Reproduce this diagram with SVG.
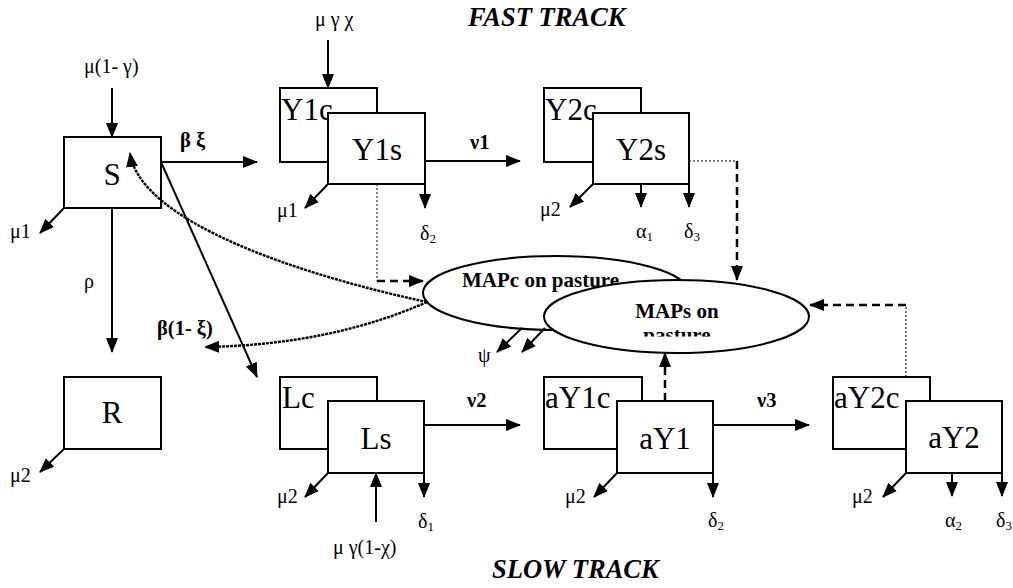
<svg xmlns="http://www.w3.org/2000/svg" width="1013" height="588" viewBox="0 0 1013 588">
<style>
.box{fill:#fff;stroke:#000;stroke-width:2}
.ell{fill:#fff;stroke:#000;stroke-width:2}
text{font-family:"Liberation Serif","Times New Roman",serif;fill:#000}
.big{font-size:31px}
.lbl{font-size:20px}
.bl{font-size:20.5px;font-weight:bold}
.map{font-size:21px;font-weight:bold}
.track{font-size:26.5px;font-weight:bold;font-style:italic}
.ln{stroke:#000;stroke-width:2;fill:none}
.dot{stroke:#000;stroke-width:1;stroke-dasharray:2 2;fill:none}
.dash{stroke:#000;stroke-width:2.5;stroke-dasharray:8 5;fill:none}
.crv{stroke:#000;stroke-width:2.4;stroke-dasharray:3 1;fill:none}
.sub{font-size:13px}
</style>
<defs>
<marker id="ah" markerUnits="userSpaceOnUse" markerWidth="16" markerHeight="12" refX="14" refY="6" orient="auto">
<path d="M0,0 L15,6 L0,12 z" fill="#000"/>
</marker>
<clipPath id="clipMaps"><rect x="560" y="290" width="240" height="46.5"/></clipPath>
</defs>

<text class="track" x="468" y="26">FAST TRACK</text>
<text class="track" x="492" y="578">SLOW TRACK</text>

<g id="node-S">
<rect class="box" x="64" y="137" width="97" height="71"/>
<text class="big" x="112" y="185" text-anchor="middle">S</text>
</g>
<g id="node-R">
<rect class="box" x="64" y="377" width="97" height="72"/>
<text class="big" x="112" y="423" text-anchor="middle">R</text>
</g>
<g id="node-Y1c">
<rect class="box" x="280" y="88" width="97" height="74"/>
<text class="big" x="281" y="120">Y1c</text>
</g>
<g id="node-Y1s">
<rect class="box" x="328" y="113" width="97" height="71"/>
<text class="big" x="377" y="160" text-anchor="middle">Y1s</text>
</g>
<g id="node-Y2c">
<rect class="box" x="544" y="88" width="97" height="74"/>
<text class="big" x="545" y="120">Y2c</text>
</g>
<g id="node-Y2s">
<rect class="box" x="593" y="113" width="96" height="71"/>
<text class="big" x="641" y="160" text-anchor="middle">Y2s</text>
</g>
<g id="node-Lc">
<rect class="box" x="280" y="377" width="97" height="72"/>
<text class="big" x="282" y="408">Lc</text>
</g>
<g id="node-Ls">
<rect class="box" x="328" y="401" width="96" height="72"/>
<text class="big" x="376" y="449" text-anchor="middle">Ls</text>
</g>
<g id="node-aY1c">
<rect class="box" x="544" y="377" width="98" height="72"/>
<text class="big" x="545" y="408">aY1c</text>
</g>
<g id="node-aY1">
<rect class="box" x="617" y="401" width="96" height="72"/>
<text class="big" x="665" y="449" text-anchor="middle">aY1</text>
</g>
<g id="node-aY2c">
<rect class="box" x="833" y="377" width="97" height="72"/>
<text class="big" x="834" y="408">aY2c</text>
</g>
<g id="node-aY2">
<rect class="box" x="906" y="401" width="96" height="72"/>
<text class="big" x="954" y="448" text-anchor="middle">aY2</text>
</g>
<g id="node-MAPc">
<ellipse class="ell" cx="556" cy="293" rx="133" ry="37"/>
<text class="map" x="462" y="287">MAPc on pasture</text>
</g>
<g id="node-MAPs">
<ellipse class="ell" cx="676.5" cy="316.5" rx="132.5" ry="36.5"/>
<g clip-path="url(#clipMaps)">
<text class="map" x="677" y="318" text-anchor="middle">MAPs on</text>
<text class="map" x="677" y="342" text-anchor="middle">pasture</text>
</g>
</g>

<g id="connectors">
<line class="ln" x1="112" y1="88" x2="112" y2="137" marker-end="url(#ah)"/>
<line class="ln" x1="64" y1="208" x2="40" y2="233" marker-end="url(#ah)"/>
<line class="ln" x1="161" y1="162" x2="257" y2="162" marker-end="url(#ah)"/>
<line class="ln" x1="112" y1="208" x2="112" y2="352" marker-end="url(#ah)"/>
<line class="ln" x1="161" y1="162" x2="257" y2="377" marker-end="url(#ah)"/>
<line class="ln" x1="64" y1="449" x2="40" y2="472" marker-end="url(#ah)"/>
<line class="ln" x1="328" y1="40" x2="328" y2="88" marker-end="url(#ah)"/>
<line class="ln" x1="425" y1="161" x2="520" y2="161" marker-end="url(#ah)"/>
<line class="ln" x1="328" y1="184" x2="305" y2="208" marker-end="url(#ah)"/>
<line class="ln" x1="425" y1="184" x2="425" y2="208" marker-end="url(#ah)"/>
<line class="ln" x1="593" y1="184" x2="570" y2="207" marker-end="url(#ah)"/>
<line class="ln" x1="641" y1="184" x2="641" y2="207" marker-end="url(#ah)"/>
<line class="ln" x1="689" y1="184" x2="689" y2="207" marker-end="url(#ah)"/>
<line class="ln" x1="424" y1="425" x2="520" y2="425" marker-end="url(#ah)"/>
<line class="ln" x1="328" y1="473" x2="305" y2="497" marker-end="url(#ah)"/>
<line class="ln" x1="424" y1="473" x2="424" y2="497" marker-end="url(#ah)"/>
<line class="ln" x1="376" y1="522" x2="376" y2="473" marker-end="url(#ah)"/>
<line class="ln" x1="713" y1="425" x2="809" y2="425" marker-end="url(#ah)"/>
<line class="ln" x1="617" y1="473" x2="594" y2="497" marker-end="url(#ah)"/>
<line class="ln" x1="713" y1="473" x2="713" y2="497" marker-end="url(#ah)"/>
<line class="ln" x1="906" y1="473" x2="883" y2="497" marker-end="url(#ah)"/>
<line class="ln" x1="952" y1="473" x2="952" y2="496" marker-end="url(#ah)"/>
<line class="ln" x1="1002" y1="473" x2="1002" y2="496" marker-end="url(#ah)"/>
<line class="ln" x1="522" y1="328" x2="497" y2="352" marker-end="url(#ah)"/>
<line class="ln" x1="545" y1="328" x2="522" y2="352" marker-end="url(#ah)"/>
<path class="dot" d="M377,184 V281"/>
<path class="dash" d="M377,281 H423" marker-end="url(#ah)"/>
<path class="dot" d="M689,161 H737"/>
<path class="dash" d="M737,161 V280" marker-end="url(#ah)"/>
<path class="dot" d="M906,377 V305"/>
<path class="dash" d="M906,305 H810" marker-end="url(#ah)"/>
<path class="dash" d="M665,401 V353" marker-end="url(#ah)"/>
<path class="crv" d="M427,302 C300,275 140,222 130,153" marker-end="url(#ah)"/>
<path class="crv" d="M427,302 Q330,345 205,347" marker-end="url(#ah)"/>
</g>

<g id="labels">
<text class="lbl" x="84" y="73">μ(1- γ)</text>
<text class="lbl" x="315" y="26">μ γ χ</text>
<text class="lbl" x="10" y="238">μ1</text>
<text class="lbl" x="84" y="288">ρ</text>
<text class="lbl" x="10" y="482">μ2</text>
<text class="lbl" x="277" y="217">μ1</text>
<text class="lbl" x="420" y="240">δ<tspan class="sub" dy="3">2</tspan></text>
<text class="lbl" x="540" y="216">μ2</text>
<text class="lbl" x="636" y="238">α<tspan class="sub" dy="3">1</tspan></text>
<text class="lbl" x="684" y="238">δ<tspan class="sub" dy="3">3</tspan></text>
<text class="lbl" x="478" y="362">ψ</text>
<text class="lbl" x="277" y="503">μ2</text>
<text class="lbl" x="418" y="528">δ<tspan class="sub" dy="3">1</tspan></text>
<text class="lbl" x="333" y="554">μ γ(1-χ)</text>
<text class="lbl" x="565" y="503">μ2</text>
<text class="lbl" x="708" y="527">δ<tspan class="sub" dy="3">2</tspan></text>
<text class="lbl" x="852" y="503">μ2</text>
<text class="lbl" x="945" y="527">α<tspan class="sub" dy="3">2</tspan></text>
<text class="lbl" x="996" y="527">δ<tspan class="sub" dy="3">3</tspan></text>
<text class="bl" x="180" y="147">β ξ</text>
<text class="bl" x="470" y="149">ν1</text>
<text class="bl" x="157" y="335">β(1- ξ)</text>
<text class="bl" x="467" y="407">ν2</text>
<text class="bl" x="757" y="407">ν3</text>
</g>
</svg>
